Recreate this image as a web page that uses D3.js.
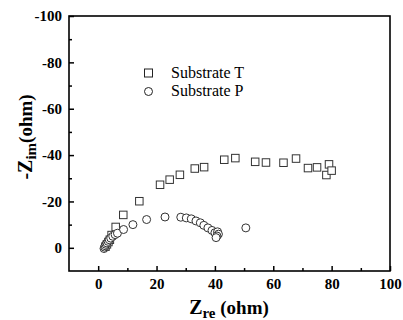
<!DOCTYPE html>
<html>
<head>
<meta charset="utf-8">
<script src="https://cdn.jsdelivr.net/npm/d3@7"></script>
<style>
  body { margin: 0; background: #fff; }
  svg { display: block; font-family: "Liberation Serif", "Times New Roman", serif; }
</style>
</head>
<body>
<div id="chart"></div>
<script>
// Substrate T (squares)
const tRe = [2.5, 3.0, 3.5, 4.0, 4.6, 6.0, 8.6, 14.1, 21.2, 24.5, 28.0, 33.1, 36.3, 43.2, 47.0, 53.8, 57.5, 63.5, 67.8, 71.9, 75.0, 79.1, 78.2, 80.0];
const tIm = [-0.5, -1.5, -2.5, -3.5, -5.5, -9.0, -14.2, -20.1, -27.2, -29.4, -31.5, -34.2, -34.8, -38.0, -38.7, -37.1, -36.8, -36.7, -38.5, -34.4, -34.7, -36.0, -31.4, -33.3];
// Substrate P (circles)
const pRe = [2.0, 2.2, 2.4, 2.7, 3.0, 3.4, 3.8, 4.3, 5.0, 5.8, 6.6, 8.7, 11.9, 16.6, 22.9, 28.3, 30.2, 31.9, 33.5, 35.0, 36.2, 37.6, 39.0, 40.0, 40.9, 41.2, 40.7, 40.4, 50.6];
const pIm = [0.3, -0.3, -0.9, -1.5, -2.1, -2.8, -3.5, -4.2, -5.0, -5.7, -6.3, -7.9, -10.0, -12.2, -13.3, -13.2, -12.9, -12.5, -11.6, -10.8, -9.7, -8.6, -7.5, -6.5, -6.9, -5.9, -5.1, -4.4, -8.6];

const xTicks = [0, 20, 40, 60, 80, 100];
const xMinor = [10, 30, 50, 70, 90];
const yTicks = [-100, -80, -60, -40, -20, 0];
const yMinor = [-90, -70, -50, -30, -10];
const legendNames = ["Substrate T", "Substrate P"];

const W = 403, H = 320;
const mLeft = 69, mRight = 390, mTop = 16, mBottom = 271;

const x = d3.scaleLinear().domain([-10, 100]).range([mLeft, mRight]);
const y = d3.scaleLinear().domain([10, -100]).range([mBottom, mTop]);

const svg = d3.select("#chart").append("svg")
  .attr("width", W)
  .attr("height", H);

const fmt = d => String(d);

// major + minor ticks, pointing inward
svg.append("g")
  .attr("transform", `translate(0,${mBottom})`)
  .call(d3.axisBottom(x).tickValues(xTicks).tickSize(-5).tickPadding(7).tickFormat(fmt));
svg.append("g")
  .attr("transform", `translate(0,${mBottom})`)
  .call(d3.axisBottom(x).tickValues(xMinor).tickSize(-3).tickFormat(""));

svg.append("g")
  .attr("transform", `translate(${mLeft},0)`)
  .call(d3.axisLeft(y).tickValues(yTicks).tickSize(-5).tickPadding(7).tickFormat(fmt));
svg.append("g")
  .attr("transform", `translate(${mLeft},0)`)
  .call(d3.axisLeft(y).tickValues(yMinor).tickSize(-3).tickFormat(""));

svg.selectAll(".domain").remove();
svg.selectAll(".tick line").attr("stroke", "#000").attr("stroke-width", 1.5);
svg.selectAll(".tick text")
  .attr("fill", "#000")
  .style("font-family", '"Liberation Serif", "Times New Roman", serif')
  .style("font-size", "15px")
  .style("font-weight", "bold");

// frame
svg.append("rect")
  .attr("x", mLeft).attr("y", mTop)
  .attr("width", mRight - mLeft).attr("height", mBottom - mTop)
  .attr("fill", "none")
  .attr("stroke", "#000")
  .attr("stroke-width", 1.6);

// data
const sq = 7.5;
svg.append("g")
  .selectAll("rect")
  .data(d3.range(tRe.length))
  .join("rect")
  .attr("x", i => x(tRe[i]) - sq / 2)
  .attr("y", i => y(tIm[i]) - sq / 2)
  .attr("width", sq).attr("height", sq)
  .attr("fill", "#fff")
  .attr("stroke", "#333")
  .attr("stroke-width", 1);

svg.append("g")
  .selectAll("circle")
  .data(d3.range(pRe.length))
  .join("circle")
  .attr("cx", i => x(pRe[i]))
  .attr("cy", i => y(pIm[i]))
  .attr("r", 4)
  .attr("fill", "#fff")
  .attr("stroke", "#333")
  .attr("stroke-width", 1);

// legend
const lg = svg.append("g");
lg.append("rect")
  .attr("x", 148.5 - 4).attr("y", 73 - 4)
  .attr("width", 8).attr("height", 8)
  .attr("fill", "#fff").attr("stroke", "#222");
lg.append("circle")
  .attr("cx", 148.5).attr("cy", 91.5).attr("r", 4)
  .attr("fill", "#fff").attr("stroke", "#222");
lg.selectAll("text")
  .data(legendNames)
  .join("text")
  .attr("x", 171)
  .attr("y", (d, i) => 78 + i * 17.5)
  .style("font-size", "16px")
  .text(d => d);

// axis titles
const xt = svg.append("text")
  .attr("x", 229).attr("y", 314)
  .attr("text-anchor", "middle")
  .style("font-weight", "bold");
xt.append("tspan").style("font-size", "20px").text("Z");
xt.append("tspan").style("font-size", "15px").attr("dy", 4).text("re");
xt.append("tspan").style("font-size", "19px").attr("dy", -4).text(" (ohm)");

const yt = svg.append("text")
  .attr("transform", "translate(32,137) rotate(-90)")
  .attr("text-anchor", "middle")
  .style("font-weight", "bold");
yt.append("tspan").style("font-size", "20px").text("-Z");
yt.append("tspan").style("font-size", "15px").attr("dy", 4).text("im");
yt.append("tspan").style("font-size", "19px").attr("dy", -4).text("(ohm)");
</script>
</body>
</html>
